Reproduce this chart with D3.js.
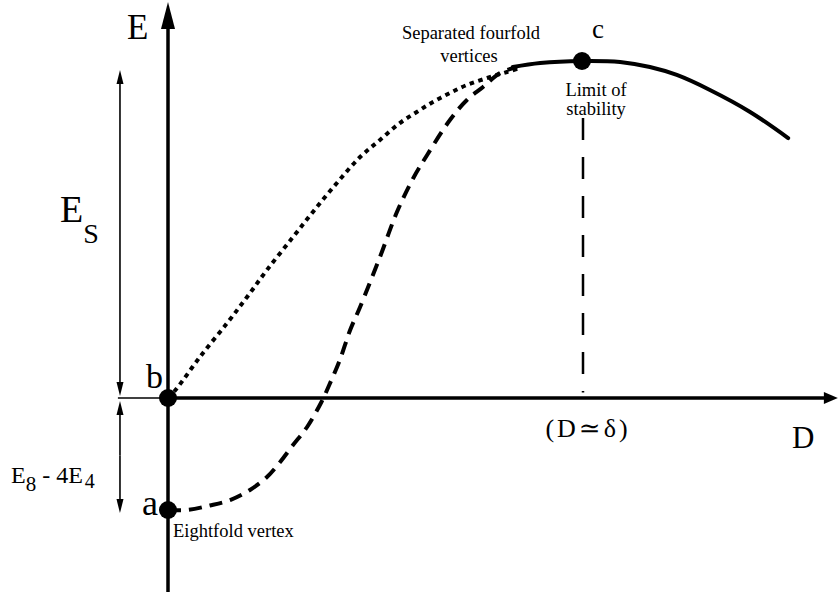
<!DOCTYPE html>
<html><head><meta charset="utf-8">
<script src="https://cdn.jsdelivr.net/npm/d3@7/dist/d3.min.js"></script>
<style>
html,body{margin:0;padding:0;background:#fff;}
svg{display:block;}
</style></head>
<body>
<script>
// ---- data (D in units of delta, E in units of |E8 - 4E4|) ----
const dottedCurve = [[0,0],[0.02,0.08],[0.077,0.366],[0.143,0.67],[0.191,0.902],[0.239,1.143],[0.302,1.438],[0.35,1.661],[0.408,1.92],[0.464,2.152],[0.512,2.304],[0.56,2.455],[0.601,2.554],[0.64,2.643],[0.681,2.723],[0.722,2.795],[0.771,2.857],[0.819,2.911],[0.85,2.945]];
const dashedCurve = [[0,-1],[0.046,-1],[0.101,-0.96],[0.15,-0.911],[0.198,-0.821],[0.239,-0.705],[0.271,-0.571],[0.302,-0.42],[0.336,-0.259],[0.37,-0.04],[0.39,0.12],[0.415,0.339],[0.44,0.607],[0.464,0.813],[0.512,1.259],[0.553,1.66],[0.592,1.96],[0.626,2.17],[0.681,2.482],[0.722,2.661],[0.761,2.777],[0.802,2.902],[0.843,2.955]];
const solidCurve = [[0.833,2.955],[0.899,2.991],[1.0,3.009],[1.092,3.0],[1.164,2.955],[1.229,2.884],[1.309,2.75],[1.406,2.554],[1.498,2.321]];
const points = [
  {name:"a", d:0, e:-1},
  {name:"b", d:0, e:0},
  {name:"c", d:1, e:3.009}
];
const axisExtent = {dMin:-0.121, dMax:1.618, eMin:-1.732, eMax:3.536};
const esTop = 2.929, e8Bottom = -1.027, leftArrowD = -0.116;
const stabilityLine = [2.5, 0.05];

// ---- scales ----
const W = 839, H = 597;
const FONT = "'Liberation Serif', 'DejaVu Serif', 'Times New Roman', Times, serif";
const x = d3.scaleLinear().domain([0,1]).range([168,582]);
const y = d3.scaleLinear().domain([-1,0]).range([510,398]);

const svg = d3.select("body").append("svg").attr("width",W).attr("height",H);
const line = d3.line().x(d=>x(d[0])).y(d=>y(d[1])).curve(d3.curveCatmullRom.alpha(0.5));

// left thin reference segment of D axis
svg.append("line").attr("x1",x(axisExtent.dMin)).attr("x2",x(0)).attr("y1",y(0)).attr("y2",y(0))
  .attr("stroke","#000").attr("stroke-width",1.6);
// D axis
svg.append("line").attr("x1",x(0)).attr("x2",x(axisExtent.dMax)-10).attr("y1",y(0)).attr("y2",y(0))
  .attr("stroke","#000").attr("stroke-width",3.5);
svg.append("path").attr("d",`M${x(axisExtent.dMax)},${y(0)} L${x(axisExtent.dMax)-14},${y(0)-6} L${x(axisExtent.dMax)-14},${y(0)+6} Z`).attr("fill","#000");
// E axis
svg.append("line").attr("x1",x(0)).attr("x2",x(0)).attr("y1",y(axisExtent.eMin)).attr("y2",y(axisExtent.eMax)+20)
  .attr("stroke","#000").attr("stroke-width",3.5);
svg.append("path").attr("d",`M${x(0)},${y(axisExtent.eMax)} L${x(0)-7},${y(axisExtent.eMax)+27} L${x(0)+7},${y(axisExtent.eMax)+27} Z`).attr("fill","#000");

// left double arrows
function vArrow(xp, y1, y2){
  const dir = y2 > y1 ? 1 : -1;
  svg.append("line").attr("x1",xp).attr("x2",xp).attr("y1",y1).attr("y2",y2-dir*8)
    .attr("stroke","#000").attr("stroke-width",1.6);
  svg.append("path").attr("d",`M${xp},${y2} L${xp-3.5},${y2-dir*14} L${xp+3.5},${y2-dir*14} Z`).attr("fill","#000");
}
const lx = x(leftArrowD);
const mid1 = (y(esTop)+y(0))/2;
vArrow(lx, mid1, y(esTop));
vArrow(lx, mid1, y(0)-2);
const mid2 = (y(0)+y(e8Bottom))/2;
vArrow(lx, mid2, y(0)+3);
vArrow(lx, mid2, y(e8Bottom));

// stability vertical dashed line
svg.append("line").attr("x1",x(1)+1).attr("x2",x(1)+1).attr("y1",y(stabilityLine[0])).attr("y2",y(stabilityLine[1]))
  .attr("stroke","#000").attr("stroke-width",2.5).attr("stroke-dasharray","22,17");

// curves
svg.append("path").attr("d",line(dottedCurve)).attr("fill","none").attr("stroke","#000")
  .attr("stroke-width",4).attr("stroke-dasharray","4.5,4.5");
svg.append("path").attr("d",line(dashedCurve)).attr("fill","none").attr("stroke","#000")
  .attr("stroke-width",4).attr("stroke-dasharray","13,8");
svg.append("path").attr("d",line(solidCurve)).attr("fill","none").attr("stroke","#000")
  .attr("stroke-width",4).attr("stroke-linecap","round");

// points
svg.selectAll("circle.pt").data(points).enter().append("circle")
  .attr("cx",d=>x(d.d)).attr("cy",d=>y(d.e)).attr("r",9).attr("fill","#000");

// labels
function txt(s, xp, yp, size, anchor){
  return svg.append("text").attr("x",xp).attr("y",yp).attr("font-size",size)
    .attr("font-family",FONT).attr("fill","#000")
    .attr("text-anchor",anchor||"start").text(s);
}
txt("E", 127, 39, 35);
const es = txt("", 60, 222, 38);
es.append("tspan").text("E");
es.append("tspan").attr("font-size",28).attr("dy",21).text("S");

const e84 = txt("", 11, 483, 24);
e84.append("tspan").text("E");
e84.append("tspan").attr("font-size",21).attr("dy",8).text("8");
e84.append("tspan").attr("dy",-8).text(" - 4E");
e84.append("tspan").attr("font-size",20).attr("dy",5).attr("dx",2).text("4");

txt("b", 163, 388, 34, "end");
txt("a", 158, 515, 36, "end");
txt("c", 598, 38, 27, "middle");
txt("Separated fourfold", 471, 39, 18.5, "middle");
txt("vertices", 469, 62, 18.5, "middle");
txt("Limit of", 596, 96, 18.5, "middle");
txt("stability", 596, 115, 18.5, "middle");
txt("Eightfold vertex", 173, 537, 18.5);
txt("(D\u2243\u03B4)", 588, 437, 26, "middle").attr("letter-spacing",3);
txt("D", 792, 448, 31);
</script>
</body></html>
